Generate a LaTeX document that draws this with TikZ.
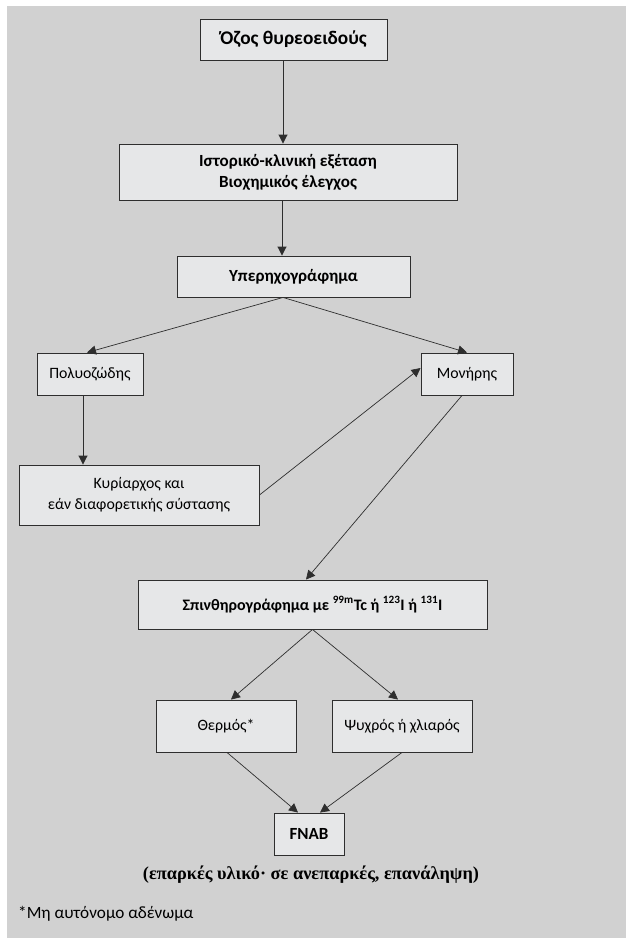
\documentclass[tikz,border=0pt]{standalone}
\usepackage{fontspec}
\setmainfont{Carlito}
\newfontfamily\notefont{Liberation Serif}
\usetikzlibrary{arrows.meta}
\definecolor{bggray}{HTML}{D1D1D1}
\definecolor{boxgray}{HTML}{E6E7E8}
\definecolor{edge}{HTML}{2E2E2E}
\tikzset{
  box/.style={draw=edge, line width=0.9pt, fill=boxgray, inner sep=0pt, align=center, anchor=center, text=black},
  bbox/.style={box, font=\bfseries\fontsize{17}{21}\selectfont},
  rbox/.style={box, font=\fontsize{15.8}{21}\selectfont},
  arr/.style={draw=edge, line width=0.9pt, -{Triangle[length=9pt,width=9pt]}},
  darr/.style={draw=edge, line width=0.7pt, -{Triangle[length=9pt,width=9pt]}}
}
\begin{document}
\begin{tikzpicture}[x=1pt,y=-1pt]
\useasboundingbox (0,0) rectangle (626,940);
\fill[bggray] (7,6) rectangle (626,938);

\node[bbox, minimum width=187pt, minimum height=41pt, font=\bfseries\fontsize{19.3}{21}\selectfont] (b1) at (293.5,39.5) {Όζος θυρεοειδούς};
\node[bbox, minimum width=338pt, minimum height=56pt] (b2) at (288,172) {Ιστορικό-κλινική εξέταση\\Βιοχημικός έλεγχος};
\node[bbox, minimum width=233pt, minimum height=41pt] (b3) at (293.5,276.5) {Υπερηχογράφημα};
\node[rbox, minimum width=106pt, minimum height=42pt] (poly) at (90,374) {Πολυοζώδης};
\node[rbox, minimum width=92pt, minimum height=42pt] (mon) at (467,374) {Μονήρης};
\node[rbox, minimum width=240pt, minimum height=60pt] (kyr) at (139,495) {Κυρίαρχος και\\εάν διαφορετικής σύστασης};
\node[bbox, minimum width=349pt, minimum height=49pt, font=\bfseries\fontsize{16}{20}\selectfont] (spin) at (312.5,604.5) {Σπινθηρογράφημα με \textsuperscript{99m}Tc ή \textsuperscript{123}I ή \textsuperscript{131}I};
\node[rbox, minimum width=140pt, minimum height=52pt] (therm) at (226,726) {Θερμός*};
\node[rbox, minimum width=140pt, minimum height=52pt] (psy) at (402,726) {Ψυχρός ή χλιαρός};
\node[bbox, minimum width=70pt, minimum height=42pt] (fnab) at (309,834) {FNAB};
\node[font=\notefont\bfseries\fontsize{18.3}{20}\selectfont, inner sep=0pt] (note) at (311,875) {(επαρκές υλικό· σε ανεπαρκές, επανάληψη)};
\node[font=\fontsize{17.2}{20}\selectfont, inner sep=0pt, anchor=west] (foot) at (18,914) {*Μη αυτόνομο αδένωμα};

\draw[arr] ([xshift=-10.5pt]b1.south) -- ([xshift=-5pt]b2.north);
\draw[arr] ([xshift=-6pt]b2.south) -- ([xshift=-11.5pt]b3.north);
\draw[darr] ([xshift=-10.5pt]b3.south) -- ([xshift=-3pt]poly.north);
\draw[darr] ([xshift=-10.5pt]b3.south) -- (mon.north);
\draw[arr] ([xshift=-7pt]poly.south) -- ([xshift=-56pt]kyr.north);
\draw[darr] (kyr.east) -- ([yshift=6pt]mon.west);
\draw[darr] ([xshift=-5pt]mon.south) -- ([xshift=-6.5pt]spin.north);
\draw[darr] (spin.south) -- ([xshift=5pt]therm.north);
\draw[darr] (spin.south) -- ([xshift=-4pt]psy.north);
\draw[darr] ([xshift=1pt]therm.south) -- ([xshift=-11pt]fnab.north);
\draw[darr] (psy.south) -- ([xshift=11pt]fnab.north);
\end{tikzpicture}
\end{document}
